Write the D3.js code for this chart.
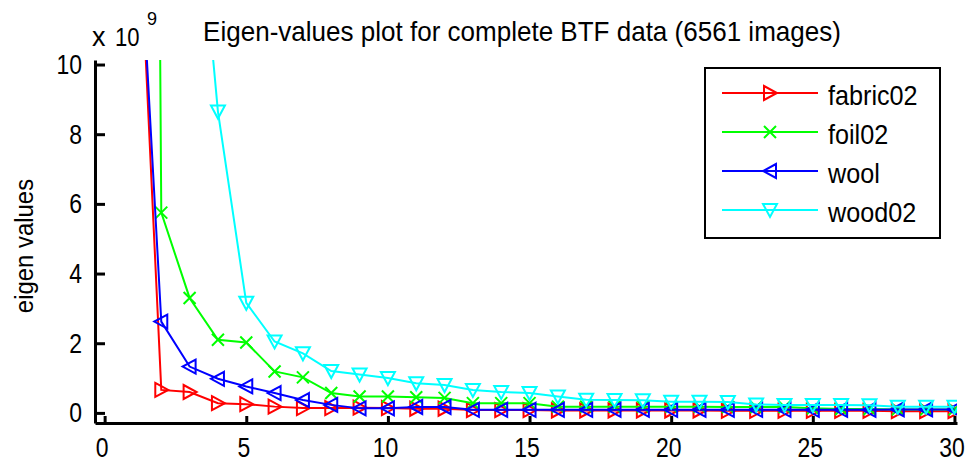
<!DOCTYPE html>
<html>
<head>
<meta charset="utf-8">
<script src="https://cdn.jsdelivr.net/npm/d3@7"></script>
<style>
  body { margin: 0; background: #fff; }
  svg { display: block; }
  text { font-family: "Liberation Sans", Arial, sans-serif; fill: #000; }
</style>
</head>
<body>
<div id="chart"></div>
<script>
// eigen-value index
const steps = [1, 2, 3, 4, 5, 6, 7, 8, 9, 10, 11, 12, 13, 14, 15, 16, 17, 18, 19, 20, 21, 22, 23, 24, 25, 26, 27, 28, 29, 30];

// values in units of 1e9
const fabric02 = [18, 0.66, 0.6, 0.28, 0.25, 0.18, 0.14, 0.14, 0.15, 0.14, 0.12, 0.12, 0.08, 0.08, 0.08, 0.07, 0.07, 0.07, 0.07, 0.07, 0.07, 0.06, 0.06, 0.06, 0.06, 0.06, 0.06, 0.05, 0.05, 0.05];
const foil02 = [120, 5.75, 3.3, 2.1, 2.02, 1.19, 1.02, 0.57, 0.47, 0.47, 0.45, 0.43, 0.28, 0.28, 0.28, 0.18, 0.18, 0.18, 0.18, 0.18, 0.18, 0.17, 0.17, 0.17, 0.13, 0.11, 0.11, 0.1, 0.1, 0.1];
const wool = [17.4, 2.62, 1.33, 0.98, 0.76, 0.57, 0.37, 0.23, 0.13, 0.13, 0.17, 0.17, 0.09, 0.09, 0.09, 0.09, 0.09, 0.09, 0.09, 0.09, 0.09, 0.09, 0.09, 0.09, 0.09, 0.09, 0.09, 0.1, 0.1, 0.1];
const wood02 = [100, 40, 17.5, 8.65, 3.16, 2.05, 1.71, 1.2, 1.1, 1.0, 0.85, 0.8, 0.66, 0.6, 0.57, 0.47, 0.38, 0.37, 0.36, 0.32, 0.32, 0.31, 0.24, 0.23, 0.23, 0.23, 0.22, 0.18, 0.18, 0.18];

const seriesNames = ["fabric02", "foil02", "wool", "wood02"];
const xTicks = [0, 5, 10, 15, 20, 25, 30];
const yTicks = [0, 2, 4, 6, 8, 10];

const series = [
    { name: seriesNames[0], values: fabric02, color: "#ff0000", marker: "right" },
    { name: seriesNames[1], values: foil02, color: "#00ff00", marker: "x" },
    { name: seriesNames[2], values: wool, color: "#0000ff", marker: "left" },
    { name: seriesNames[3], values: wood02, color: "#00ffff", marker: "down" }
];

const width = 969;
const height = 463;
const squeeze = 0.82; // reference font is narrower than Liberation Sans

const svg = d3.select("#chart")
    .append("svg")
    .attr("width", width)
    .attr("height", height);

const x = d3.scaleLinear().domain([-0.34, 30.09]).range([95, 957]);
const y = d3.scaleLinear().domain([-0.29, 10.13]).range([423, 60]);

// marker shapes (matlab style, unfilled)
const markerPaths = {
    right: "M-6,-7L7,0L-6,7Z",
    left: "M6,-7L-7,0L6,7Z",
    down: "M-7,-6L7,-6L0,7Z",
    x: "M-6,-6L6,6M-6,6L6,-6"
};

svg.append("clipPath")
    .attr("id", "plotClip")
    .append("rect")
    .attr("x", 95)
    .attr("y", 60)
    .attr("width", 862)
    .attr("height", 363);

const plot = svg.append("g").attr("clip-path", "url(#plotClip)");

const line = d3.line()
    .x((d, i) => x(steps[i]))
    .y(d => y(d));

series.forEach(function (s) {
    const g = plot.append("g");
    g.append("path")
        .attr("d", line(s.values))
        .attr("fill", "none")
        .attr("stroke", s.color)
        .attr("stroke-width", 2);
    g.selectAll("path.mk")
        .data(s.values)
        .enter().append("path")
        .attr("class", "mk")
        .attr("d", markerPaths[s.marker])
        .attr("transform", (d, i) => "translate(" + x(steps[i]) + "," + y(d) + ")")
        .attr("fill", "none")
        .attr("stroke", s.color)
        .attr("stroke-width", 2);
});

// axes
const yAxis = svg.append("g")
    .attr("transform", "translate(95,0)")
    .call(d3.axisLeft(y).tickValues(yTicks).tickSize(-10).tickSizeOuter(0).tickPadding(13));

const xAxis = svg.append("g")
    .attr("transform", "translate(0,423)")
    .call(d3.axisBottom(x).tickValues(xTicks).tickSize(-7).tickSizeOuter(0).tickPadding(14));

[yAxis, xAxis].forEach(function (a) {
    a.selectAll("path.domain").attr("stroke", "#000").attr("stroke-width", 3);
    a.selectAll(".tick line").attr("stroke", "#000").attr("stroke-width", 3);
    a.selectAll(".tick text")
        .attr("fill", "#000")
        .style("font-size", "28px")
        .style("font-family", null);
});

yAxis.selectAll(".tick text")
    .attr("x", -13 / squeeze)
    .attr("transform", "scale(" + squeeze + ",1)");
xAxis.selectAll(".tick text")
    .attr("x", -3 / squeeze)
    .attr("transform", "scale(" + squeeze + ",1)");

// title
svg.append("text")
    .attr("transform", "translate(522,41) scale(0.93,1)")
    .attr("text-anchor", "middle")
    .style("font-size", "28px")
    .text("Eigen-values plot for complete BTF data (6561 images)");

// y label
svg.append("text")
    .attr("transform", "translate(33,246) rotate(-90) scale(0.92,1)")
    .attr("text-anchor", "middle")
    .style("font-size", "26px")
    .text("eigen values");

// exponent
svg.append("text")
    .attr("x", 92)
    .attr("y", 46)
    .style("font-size", "27px")
    .text("x");
svg.append("text")
    .attr("transform", "translate(115,46) scale(0.85,1)")
    .style("font-size", "26px")
    .text("10");
svg.append("text")
    .attr("transform", "translate(147,25) scale(0.95,1)")
    .style("font-size", "19px")
    .text("9");

// legend
const legend = svg.append("g");
legend.append("rect")
    .attr("x", 705)
    .attr("y", 68)
    .attr("width", 235)
    .attr("height", 170)
    .attr("fill", "#fff")
    .attr("stroke", "#000")
    .attr("stroke-width", 2);

const rowY = d3.scalePoint().domain(seriesNames).range([93, 210]);

series.forEach(function (s) {
    const ly = rowY(s.name);
    legend.append("line")
        .attr("x1", 722).attr("x2", 818)
        .attr("y1", ly).attr("y2", ly)
        .attr("stroke", s.color)
        .attr("stroke-width", 2);
    legend.append("path")
        .attr("d", markerPaths[s.marker])
        .attr("transform", "translate(770," + ly + ")")
        .attr("fill", "none")
        .attr("stroke", s.color)
        .attr("stroke-width", 2);
    legend.append("text")
        .attr("transform", "translate(828," + (ly + 12) + ") scale(0.9,1)")
        .style("font-size", "28px")
        .text(s.name);
});
</script>
</body>
</html>
